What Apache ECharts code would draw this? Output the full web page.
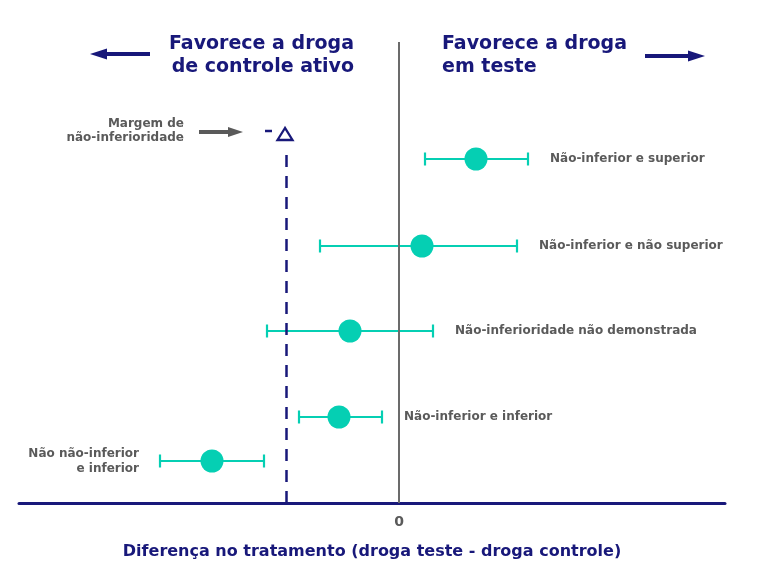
<!DOCTYPE html>
<html>
<head>
<meta charset="utf-8">
<script src="https://cdn.jsdelivr.net/npm/echarts@6/dist/echarts.min.js"></script>
<style>html,body{margin:0;padding:0;background:#fff}#c{width:776px;height:576px}</style>
</head>
<body>
<div id="c"></div>
<script>
// ---- data ----
const rowPos = [3.44, 2.57, 1.72, 0.86, 0.42];
const estimates = [0.77, 0.23, -0.49, -0.60, -1.87];
const lowerCI = [0.26, -0.79, -1.32, -1.00, -2.39];
const upperCI = [1.29, 1.18, 0.34, -0.17, -1.35];
const outcomeLabels = [
  'Não-inferior e superior',
  'Não-inferior e não superior',
  'Não-inferioridade não demonstrada',
  'Não-inferior e inferior',
  'Não não-inferior\ne inferior'
];
const labelSides = ['right', 'right', 'right', 'right', 'left'];
const margin = -1.13;
const marginTop = 3.53;
const xTickLabels = [0];
const xTitle = 'Diferença no tratamento (droga teste - droga controle)';
const leftTitle = 'Favorece a droga\nde controle ativo';
const rightTitle = 'Favorece a droga\nem teste';
const marginLabel = 'Margem de\nnão-inferioridade';

const NAVY = '#18187a';
const TEAL = '#05cfb3';
const GRAY = '#5a5a5a';
const FONT = '"DejaVu Sans", "Open Sans", sans-serif';

const seriesData = rowPos.map((y, i) => [y, estimates[i], lowerCI[i], upperCI[i], i]);

const chart = echarts.init(document.getElementById('c'), null, {renderer: 'canvas'});

function arrow(x1, x2, y, color, thick, headLen, headH) {
  const dir = x2 > x1 ? 1 : -1;
  const base = x2 - dir * headLen;
  return {
    type: 'group',
    silent: true,
    children: [
      {type: 'line', shape: {x1: x1, y1: y, x2: base, y2: y}, style: {stroke: color, lineWidth: thick}},
      {type: 'polygon', shape: {points: [[x2, y], [base, y - headH / 2], [base, y + headH / 2]]}, style: {fill: color}}
    ]
  };
}

const option = {
  animation: false,
  backgroundColor: '#ffffff',
  grid: {left: 19, right: 51, top: 42, bottom: 73, containLabel: false},
  xAxis: {
    type: 'value',
    min: -3.8,
    max: 3.26,
    splitLine: {show: false},
    axisTick: {show: false},
    axisLine: {show: true, onZero: false, lineStyle: {color: NAVY, width: 3}},
    axisLabel: {
      customValues: xTickLabels,
      color: GRAY, fontSize: 14, fontWeight: 700, fontFamily: FONT, margin: 12
    },
    name: xTitle,
    nameLocation: 'middle',
    nameGap: 41,
    nameTextStyle: {color: NAVY, fontSize: 16, fontWeight: 700, fontFamily: FONT}
  },
  yAxis: {type: 'value', min: 0, max: 4.61, show: false},
  series: [
    {
      type: 'custom',
      z: 3,
      data: seriesData,
      renderItem: function (params, api) {
        const y = api.value(0);
        const pc = api.coord([api.value(1), y]);
        const pl = api.coord([api.value(2), y]);
        const ph = api.coord([api.value(3), y]);
        const idx = api.value(4);
        const side = labelSides[idx];
        const cap = 6.5;
        const txtX = side === 'right' ? ph[0] + 22 : pl[0] - 21;
        return {
          type: 'group',
          children: [
            {type: 'line', shape: {x1: pl[0], y1: pl[1], x2: ph[0], y2: ph[1]}, style: {stroke: TEAL, lineWidth: 2.2}},
            {type: 'line', shape: {x1: pl[0], y1: pl[1] - cap, x2: pl[0], y2: pl[1] + cap}, style: {stroke: TEAL, lineWidth: 2.2}},
            {type: 'line', shape: {x1: ph[0], y1: ph[1] - cap, x2: ph[0], y2: ph[1] + cap}, style: {stroke: TEAL, lineWidth: 2.2}},
            {type: 'circle', shape: {cx: pc[0], cy: pc[1], r: 11.5}, style: {fill: TEAL}},
            {type: 'text', x: txtX, y: pc[1], style: {
              text: outcomeLabels[idx],
              fill: GRAY, fontSize: 12, fontWeight: 700, fontFamily: FONT,
              align: side === 'right' ? 'left' : 'right',
              verticalAlign: 'middle', lineHeight: 15
            }}
          ]
        };
      }
    },
    {
      type: 'line',
      data: [],
      z: 4,
      markLine: {
        silent: true,
        symbol: 'none',
        animation: false,
        label: {show: false},
        data: [
          [{coord: [0, 0], lineStyle: {color: '#6b6b6b', width: 2, type: 'solid'}}, {coord: [0, 4.61]}],
          [{coord: [margin, 0], lineStyle: {color: NAVY, width: 2.5, type: [12, 9]}}, {coord: [margin, marginTop]}]
        ]
      }
    }
  ],
  graphic: [
    {type: 'text', x: 354, y: 55.5, style: {text: leftTitle, fill: NAVY, fontSize: 19, fontWeight: 700, fontFamily: FONT, align: 'right', verticalAlign: 'middle', lineHeight: 23}},
    {type: 'text', x: 442, y: 55.5, style: {text: rightTitle, fill: NAVY, fontSize: 19, fontWeight: 700, fontFamily: FONT, align: 'left', verticalAlign: 'middle', lineHeight: 23}},
    arrow(150, 90, 54, NAVY, 4, 17, 11),
    arrow(645, 705, 56, NAVY, 4, 17, 11),
    {type: 'text', x: 184, y: 131, style: {text: marginLabel, fill: GRAY, fontSize: 12, fontWeight: 700, fontFamily: FONT, align: 'right', verticalAlign: 'middle', lineHeight: 14}},
    arrow(199, 243, 132, GRAY, 4, 15, 10),
    {type: 'line', shape: {x1: 265, y1: 131, x2: 272, y2: 131}, style: {stroke: NAVY, lineWidth: 2.5}},
    {type: 'polygon', shape: {points: [[285, 128], [277.5, 140], [292.5, 140]]}, style: {fill: 'none', stroke: NAVY, lineWidth: 2.3, lineJoin: 'miter'}}
  ]
};
chart.setOption(option);
</script>
</body>
</html>
